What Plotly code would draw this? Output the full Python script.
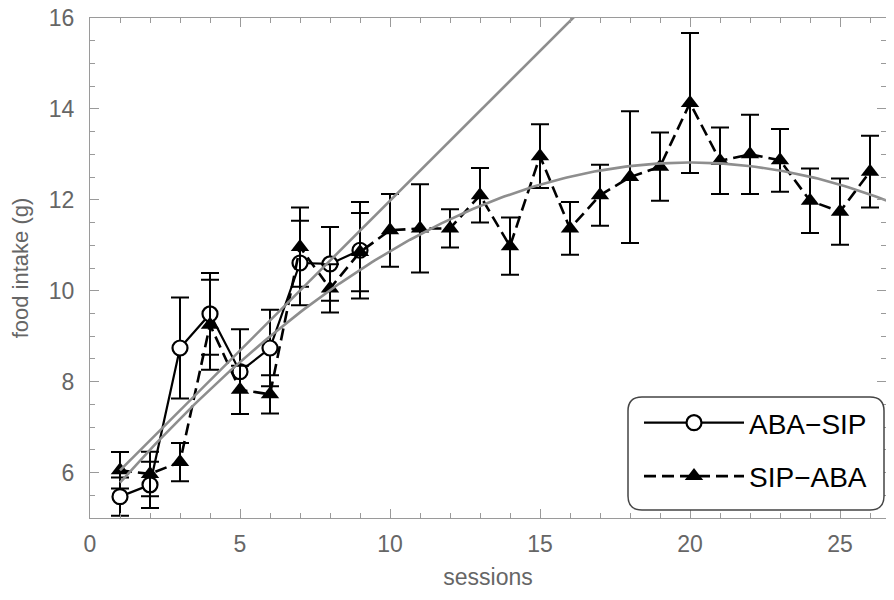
import numpy as np
import plotly.graph_objects as go

# ---------------- data ----------------
aba_sip_sessions = [1, 2, 3, 4, 5, 6, 7, 8, 9]
aba_sip_mean = [5.47, 5.73, 8.74, 9.49, 8.22, 8.74, 10.61, 10.59, 10.89]
aba_sip_err = [0.42, 0.51, 1.11, 0.90, 0.93, 0.84, 0.93, 0.81, 1.06]

sip_aba_sessions = list(range(1, 27))
sip_aba_mean = [6.05, 5.97, 6.23, 9.25, 7.82, 7.72, 10.96, 10.05, 10.85, 11.33,
                11.37, 11.37, 12.10, 10.98, 12.96, 11.37, 12.10, 12.50, 12.73, 14.13,
                12.86, 13.00, 12.87, 11.98, 11.74, 12.62]
sip_aba_err = [0.40, 0.49, 0.42, 0.99, 0.53, 0.42, 0.87, 0.53, 0.86, 0.80,
               0.97, 0.42, 0.60, 0.63, 0.70, 0.58, 0.67, 1.45, 0.75, 1.54,
               0.73, 0.87, 0.69, 0.71, 0.73, 0.79]

x_tick_vals = [0, 5, 10, 15, 20, 25]
y_tick_vals = [6, 8, 10, 12, 14, 16]

# fitted curves
linear_intercept, linear_slope = 5.39, 0.659
quad_vertex_x, quad_vertex_y, quad_curv = 20.0, 12.82, -0.0195

# ---------------- figure ----------------
fig = go.Figure()

fig.add_trace(go.Scatter(
    x=aba_sip_sessions, y=aba_sip_mean, name="ABA\u2212SIP",
    legendgroup="a",
    mode="lines+markers",
    line=dict(color="black", width=2.2),
    marker=dict(symbol="circle", size=15, color="white",
                line=dict(color="black", width=2.2)),
    error_y=dict(type="data", array=aba_sip_err, color="black",
                 thickness=2, width=9),
))

fig.add_trace(go.Scatter(
    x=sip_aba_sessions, y=sip_aba_mean, name="SIP\u2212ABA",
    legendgroup="b",
    mode="lines+markers",
    line=dict(color="black", width=2.6, dash="12px,6px"),
    marker=dict(symbol="triangle-up", size=16, color="black",
                line=dict(color="black", width=0)),
    error_y=dict(type="data", array=sip_aba_err, color="black",
                 thickness=2, width=9),
))

xs_lin = np.linspace(1, 17, 60)
fig.add_trace(go.Scatter(
    x=xs_lin, y=linear_intercept + linear_slope * xs_lin, mode="lines",
    line=dict(color="#8e8e8e", width=2.6), showlegend=False, hoverinfo="skip"))

xs_q = np.linspace(1, 27, 200)
fig.add_trace(go.Scatter(
    x=xs_q, y=quad_vertex_y + quad_curv * (xs_q - quad_vertex_x) ** 2, mode="lines",
    line=dict(color="#8e8e8e", width=2.6), showlegend=False, hoverinfo="skip"))

axis_gray = "#9a9a9a"
label_gray = "#666666"
font_fam = "Liberation Sans, Arial, sans-serif"

# page has an 8px body margin; figure is laid out to compensate
FIG_W, FIG_H = 878, 600
M_L, M_R, M_T, M_B = 82, 0, 10, 90
plot_w = FIG_W - M_L - M_R
plot_h = FIG_H - M_T - M_B

fig.update_xaxes(
    range=[0, plot_w / 30.0], showgrid=False, zeroline=False, automargin=False,
    showline=True, linecolor=axis_gray, linewidth=1, mirror="allticks",
    ticks="inside", ticklen=9, tickcolor=axis_gray, tickwidth=1,
    tickvals=x_tick_vals, ticklabelstandoff=5, ticklabeloverflow="allow",
    minor=dict(dtick=1, tick0=0, ticks="inside", ticklen=5, tickcolor=axis_gray),
    tickfont=dict(family=font_fam, size=23, color=label_gray),
    title=dict(text="sessions", font=dict(family=font_fam, size=23, color=label_gray),
               standoff=13),
)
fig.update_yaxes(
    range=[5, 16], showgrid=False, zeroline=False, automargin=False,
    showline=True, linecolor=axis_gray, linewidth=1, mirror="allticks",
    ticks="inside", ticklen=9, tickcolor=axis_gray, tickwidth=1,
    tickvals=y_tick_vals, ticklabelstandoff=10, ticklabeloverflow="allow",
    minor=dict(dtick=0.5, tick0=5, ticks="inside", ticklen=5, tickcolor=axis_gray),
    tickfont=dict(family=font_fam, size=23, color=label_gray),
    title=dict(text="food intake (g)", font=dict(family=font_fam, size=22, color=label_gray),
               standoff=16),
)

# rounded legend frame (paper coords)
x0, x1 = 538 / plot_w, 794 / plot_w
y0, y1 = 8 / plot_h, 121 / plot_h
rx, ry = 14 / plot_w, 14 / plot_h
path = (f"M{x0+rx},{y0} L{x1-rx},{y0} Q{x1},{y0} {x1},{y0+ry} L{x1},{y1-ry} "
        f"Q{x1},{y1} {x1-rx},{y1} L{x0+rx},{y1} Q{x0},{y1} {x0},{y1-ry} "
        f"L{x0},{y0+ry} Q{x0},{y0} {x0+rx},{y0} Z")
fig.add_shape(type="path", path=path, xref="paper", yref="paper",
              line=dict(color="#444444", width=1.5), fillcolor="white", layer="above")

fig.update_layout(
    width=FIG_W, height=FIG_H,
    margin=dict(l=M_L, r=M_R, t=M_T, b=M_B),
    plot_bgcolor="white", paper_bgcolor="white",
    showlegend=True,
    legend=dict(x=549 / plot_w, y=120 / plot_h, xanchor="left", yanchor="top",
                bgcolor="rgba(0,0,0,0)", borderwidth=0,
                font=dict(family=font_fam, size=28, color="black"),
                itemwidth=100, tracegroupgap=14),
)

fig.write_html("out.html")
